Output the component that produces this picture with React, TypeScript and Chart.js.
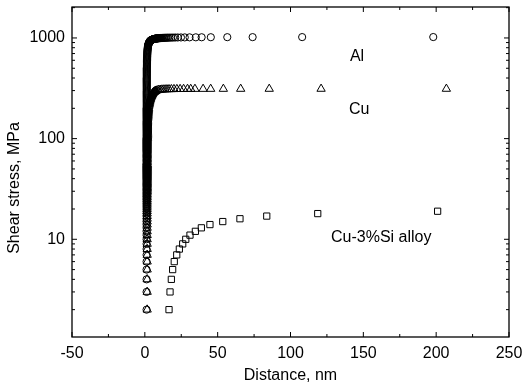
import React, { useEffect, useRef } from 'react';
import { Chart, registerables } from 'chart.js';

Chart.register(...registerables);

const FONT = '"Liberation Sans", Arial, Helvetica, sans-serif';

const xTickValues = [-50, 0, 50, 100, 150, 200, 250];
const yTickValues = [10, 100, 1000];

// Al (circles): shear stress, MPa  (10 values per line)
const alStress = [
  2, 3, 4, 5, 6, 7, 8, 9, 10, 11,
  12, 13, 14, 15, 16, 17, 18, 19, 20, 21,
  22, 23, 24, 25, 26, 27, 28, 29, 30, 31,
  32, 33, 34, 35, 36, 37, 38, 39, 40, 41,
  42, 43, 44, 45, 46, 47, 48, 49, 50, 51,
  52, 53, 54, 55, 56, 58, 60, 62, 64, 66,
  68, 70, 72, 74, 76, 78, 80, 82, 84, 86,
  88, 90, 92, 94, 96, 98, 100, 102, 105, 108,
  111, 114, 117, 120, 123, 126, 129, 132, 135, 138,
  141, 144, 147, 150, 154, 158, 162, 166, 170, 174,
  178, 182, 186, 190, 194, 198, 202, 208, 214, 220,
  226, 232, 238, 244, 250, 256, 262, 268, 274, 280,
  286, 292, 298, 306, 314, 322, 330, 338, 346, 354,
  362, 370, 378, 386, 394, 402, 412, 422, 432, 442,
  452, 462, 472, 482, 492, 502, 514, 526, 538, 550,
  562, 574, 586, 598, 610, 622, 634, 646, 658, 672,
  686, 700, 714, 728, 742, 756, 770, 784, 798, 812,
  824, 836, 847, 858, 868, 878, 887, 896, 904, 912,
  919, 926, 932, 938, 943, 948, 952, 956, 960, 963,
  966, 969, 972, 974, 976, 978, 980, 982, 984, 985,
  987, 988, 989, 990, 991, 992, 993, 994, 995, 996,
  997, 998, 999, 1000, 1001, 1002, 1003, 1004, 1005, 1006,
  1007, 1008, 1009, 1010, 1011, 1012, 1013, 1014, 1015, 1016,
  1017, 1018, 1019, 1020, 1021,
];
// Al: distance, nm  (aligned line by line with alStress)
const alDistance = [
  1.2, 1.2, 1.2, 1.2, 1.2,  1.2, 1.2, 1.2, 1.2, 1.2,
  1.2, 1.2, 1.2, 1.2, 1.2,  1.2, 1.2, 1.2, 1.2, 1.2,
  1.2, 1.2, 1.2, 1.2, 1.2,  1.2, 1.2, 1.2, 1.2, 1.2,
  1.2, 1.2, 1.2, 1.2, 1.2,  1.2, 1.2, 1.2, 1.2, 1.2,
  1.2, 1.2, 1.2, 1.2, 1.2,  1.2, 1.2, 1.2, 1.2, 1.2,
  1.2, 1.2, 1.2, 1.2, 1.2,  1.2, 1.2, 1.2, 1.2, 1.2,
  1.2, 1.2, 1.2, 1.2, 1.2,  1.2, 1.2, 1.2, 1.2, 1.2,
  1.2, 1.2, 1.2, 1.2, 1.2,  1.2, 1.2, 1.25, 1.25, 1.25,
  1.25, 1.25, 1.25, 1.25, 1.25,  1.25, 1.25, 1.25, 1.25, 1.25,
  1.25, 1.25, 1.25, 1.25, 1.25,  1.25, 1.25, 1.25, 1.25, 1.25,
  1.25, 1.25, 1.25, 1.25, 1.25,  1.25, 1.25, 1.3, 1.3, 1.3,
  1.3, 1.3, 1.3, 1.3, 1.3,  1.3, 1.3, 1.3, 1.3, 1.3,
  1.3, 1.3, 1.3, 1.3, 1.3,  1.3, 1.3, 1.3, 1.3, 1.3,
  1.3, 1.3, 1.3, 1.3, 1.3,  1.3, 1.35, 1.35, 1.35, 1.35,
  1.35, 1.35, 1.35, 1.35, 1.35,  1.35, 1.4, 1.41, 1.42, 1.43,
  1.45, 1.46, 1.48, 1.5, 1.52,  1.54, 1.56, 1.58, 1.62, 1.64,
  1.67, 1.7, 1.73, 1.77, 1.81,  1.85, 1.9, 1.96, 2.02, 2.09,
  2.16, 2.24, 2.32, 2.41, 2.51,  2.61, 2.72, 2.85, 2.98, 3.12,
  3.27, 3.44, 3.6, 3.79, 3.97,  4.18, 4.36, 4.57, 4.8, 4.99,
  5.21, 5.45, 5.72, 5.92, 6.13,  6.37, 6.63, 6.91, 7.22, 7.39,
  7.76, 7.96, 8.17, 8.4, 8.64,  8.9, 9.17, 9.46, 9.78, 10.1,
  10.5, 10.9, 11.3, 11.8, 12.3,  12.9, 13.5, 14.2, 15, 15.8,
  16.8, 18, 19.3, 20.8, 22.6,  24.8, 27.4, 30.7, 35, 39,
  45.3, 56.6, 74, 108, 198,
];

// Cu (triangles): shear stress, MPa  (10 values per line)
const cuStress = [
  2, 3, 4, 5, 6, 7, 8, 9, 10, 11,
  12, 13, 14, 15, 16, 17, 18, 19, 20, 21,
  22, 23, 24, 25, 26, 27, 28, 29, 30, 31,
  32, 33, 34, 35, 36, 37, 38, 39, 40, 41,
  42, 43, 44, 45, 46, 47, 48, 49, 50, 51,
  52, 53, 54, 55, 56, 58, 60, 62, 64, 66,
  68, 70, 72, 74, 76, 78, 80, 82, 84, 86,
  88, 90, 92, 94, 96, 98, 100, 102, 105, 108,
  111, 114, 117, 120, 123, 126, 129, 132, 135, 138,
  141, 144, 147, 150, 154, 158, 162, 166, 170, 174,
  178, 182, 186, 190, 194, 198, 202, 208, 213, 218,
  222, 226, 231, 236, 240, 244, 248, 252, 256, 260,
  263, 266, 270, 273, 276, 279, 281, 284, 286, 288,
  290, 292, 294, 296, 297, 299, 302, 304, 305.5, 306.5,
  307.3, 308, 308.6, 309.1, 309.5, 309.9, 310.2, 310.5, 310.8, 311,
  311.2, 311.4, 311.5, 311.6, 311.7, 311.8, 311.9, 312, 312,
];
// Cu: distance, nm  (aligned line by line with cuStress)
const cuDistance = [
  1.6, 1.6, 1.6, 1.6, 1.6,  1.6, 1.6, 1.6, 1.6, 1.6,
  1.6, 1.6, 1.6, 1.6, 1.6,  1.6, 1.6, 1.6, 1.6, 1.6,
  1.6, 1.6, 1.6, 1.6, 1.6,  1.6, 1.6, 1.6, 1.7, 1.7,
  1.7, 1.7, 1.7, 1.7, 1.7,  1.7, 1.7, 1.7, 1.7, 1.7,
  1.7, 1.7, 1.7, 1.7, 1.7,  1.7, 1.7, 1.7, 1.7, 1.7,
  1.7, 1.7, 1.7, 1.7, 1.7,  1.7, 1.7, 1.7, 1.7, 1.7,
  1.7, 1.7, 1.7, 1.7, 1.7,  1.7, 1.7, 1.7, 1.7, 1.7,
  1.7, 1.7, 1.7, 1.7, 1.7,  1.7, 1.7, 1.9, 1.9, 1.9,
  1.9, 1.9, 1.9, 1.9, 1.9,  1.9, 1.9, 1.9, 1.9, 1.9,
  1.9, 1.9, 1.9, 1.9, 2.0,  2.05, 2.1, 2.15, 2.2, 2.2,
  2.25, 2.3, 2.35, 2.4, 2.45,  2.5, 2.55, 2.7, 2.8, 2.9,
  3.0, 3.1, 3.25, 3.4, 3.5,  3.65, 3.8, 3.95, 4.1, 4.25,
  4.4, 4.6, 4.8, 4.95, 5.1,  5.25, 5.4, 5.6, 5.8, 6.0,
  6.3, 6.6, 6.9, 7.15, 7.3,  7.7, 8.5, 9.5, 10.5, 11.5,
  12.6, 13.9, 15.2, 16.6, 18.2,  20, 22, 24.2, 26.6, 29.3,
  31.5, 34.4, 40, 45.2, 53.9,  65.8, 85.4, 121, 207,
];

// Cu-3%Si alloy (squares)
const siStress = [2, 3, 4, 5, 6, 7, 8, 9, 10, 11, 12, 13, 14, 15, 16, 17, 18, 19];
const siDistance = [16.6, 17.3, 18.2, 19.1, 20.2, 21.9, 23.7, 26.0, 28.1, 31.0, 34.7, 38.8, 44.7, 53.5, 65.3, 83.7, 118.7, 201];

// In-plot labels (anchored in data units: left edge x, baseline y)
const labelTexts = ['Al', 'Cu', 'Cu-3%Si alloy'];
const labelX = [140.8, 140.2, 127.8];
const labelY = [594, 174.5, 9.46];

const zip = (xs: number[], ys: number[]) => xs.map((x, i) => ({ x, y: ys[i] }));

const framePlugin = {
  id: 'frameTicks',
  afterDraw(chart: any) {
    const { ctx, chartArea: ca, scales } = chart;
    const xs = scales.x;
    const ys = scales.y;
    ctx.save();
    ctx.strokeStyle = '#000';
    ctx.lineWidth = 1.3;
    ctx.strokeRect(ca.left, ca.top, ca.right - ca.left, ca.bottom - ca.top);
    ctx.lineWidth = 1;
    const major = 5;
    const minor = 3;
    ctx.beginPath();
    for (let i = 0; i < xTickValues.length; i++) {
      const v = xTickValues[i];
      const p = xs.getPixelForValue(v);
      ctx.moveTo(p, ca.bottom); ctx.lineTo(p, ca.bottom - major);
      ctx.moveTo(p, ca.top); ctx.lineTo(p, ca.top + major);
      if (i < xTickValues.length - 1) {
        const m = xs.getPixelForValue((v + xTickValues[i + 1]) / 2);
        ctx.moveTo(m, ca.bottom); ctx.lineTo(m, ca.bottom - minor);
        ctx.moveTo(m, ca.top); ctx.lineTo(m, ca.top + minor);
      }
    }
    const yMin = ys.min, yMax = ys.max;
    for (const d of [1, 10, 100, 1000]) {
      for (let k = 1; k <= 9; k++) {
        const v = d * k;
        if (v < yMin || v > yMax) continue;
        const p = ys.getPixelForValue(v);
        const len = k === 1 ? major : minor;
        ctx.moveTo(ca.left, p); ctx.lineTo(ca.left + len, p);
        ctx.moveTo(ca.right, p); ctx.lineTo(ca.right - len, p);
      }
    }
    ctx.stroke();

    ctx.fillStyle = '#000';
    ctx.font = `16px ${FONT}`;
    ctx.save();
    ctx.translate(15, (ca.top + ca.bottom) / 2 + 16);
    ctx.rotate(-Math.PI / 2);
    ctx.textAlign = 'center';
    ctx.textBaseline = 'middle';
    ctx.fillText('Shear stress, MPa', 0, 0);
    ctx.restore();

    ctx.textAlign = 'left';
    ctx.textBaseline = 'alphabetic';
    for (let i = 0; i < labelTexts.length; i++) {
      ctx.fillText(labelTexts[i], xs.getPixelForValue(labelX[i]), ys.getPixelForValue(labelY[i]));
    }
    ctx.restore();
  },
};

export default function App() {
  const ref = useRef<HTMLCanvasElement>(null);
  useEffect(() => {
    document.body.style.margin = '0';
    const canvas = ref.current;
    if (!canvas) return;
    const common = {
      borderColor: '#000',
      backgroundColor: 'rgba(0,0,0,0)',
      borderWidth: 1,
      showLine: false,
    };
    const chart = new Chart(canvas, {
      type: 'scatter',
      data: {
        datasets: [
          { label: 'Al', data: zip(alDistance, alStress), pointStyle: 'circle', pointRadius: 3.6, ...common },
          { label: 'Cu', data: zip(cuDistance, cuStress), pointStyle: 'triangle', pointRadius: 4.8, ...common },
          { label: 'Cu-3%Si alloy', data: zip(siDistance, siStress), pointStyle: 'rect', pointRadius: 4.4, ...common },
        ],
      },
      options: {
        animation: false,
        responsive: false,
        devicePixelRatio: 1,
        layout: { autoPadding: false, padding: { top: 7, right: 19, left: 0, bottom: 0 } },
        plugins: { legend: { display: false }, tooltip: { enabled: false } },
        scales: {
          x: {
            type: 'linear',
            position: 'bottom',
            min: -50,
            max: 250,
            afterBuildTicks: (s: any) => { s.ticks = xTickValues.map((v) => ({ value: v })); },
            ticks: { color: '#000', font: { family: FONT, size: 16 }, padding: 7, maxRotation: 0, autoSkip: false },
            grid: { display: false, drawTicks: false },
            border: { display: false },
            title: { display: true, text: 'Distance, nm', color: '#000', font: { family: FONT, size: 16 }, padding: { top: 0, bottom: 0 } },
            afterFit: (s: any) => { s.height = 48; s.paddingLeft = 0; s.paddingRight = 0; },
          },
          y: {
            type: 'logarithmic',
            min: 1.07,
            max: 2030,
            afterBuildTicks: (s: any) => { s.ticks = yTickValues.map((v) => ({ value: v })); },
            ticks: { color: '#000', font: { family: FONT, size: 16 }, padding: 7, callback: (v: any) => String(v) },
            grid: { display: false, drawTicks: false },
            border: { display: false },
            afterFit: (s: any) => { s.width = 72; s.paddingTop = 0; s.paddingBottom = 0; },
          },
        },
      },
      plugins: [framePlugin],
    } as any);
    return () => chart.destroy();
  }, []);
  return (
    <div style={{ position: 'absolute', left: 0, top: 0, width: 528, height: 385 }}>
      <canvas ref={ref} width={528} height={385} style={{ display: 'block' }} />
    </div>
  );
}
